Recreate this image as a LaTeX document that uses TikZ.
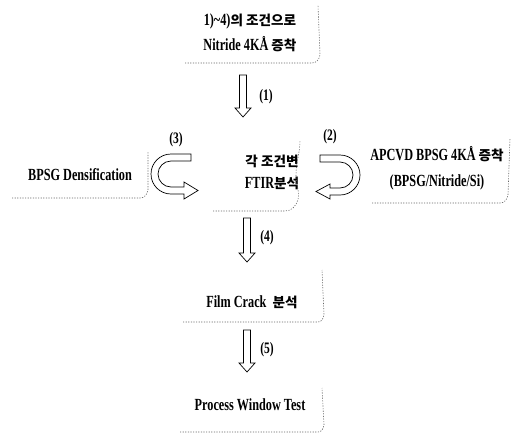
\documentclass[tikz,border=0pt]{standalone}
\usepackage{fontspec}
\setmainfont{Liberation Serif}[FakeStretch=0.72]
\newfontfamily\kr{Noto Sans CJK KR}[Scale=0.8]
\usetikzlibrary{calc}
\tikzset{
  txt/.style={font=\bfseries\fontsize{17}{25}\selectfont, align=center, inner sep=0pt},
  lbl/.style={font=\bfseries\fontsize{16}{16}\selectfont, inner sep=0pt},
  frame/.style={draw=black!60, line width=0.6pt, dash pattern=on 1.2pt off 1.4pt},
  hollow/.style={draw=black, fill=white, line width=0.7pt, line join=miter},
}
\newcommand\harrow[2]{%
  \draw[hollow] let \p1=(#1), \p2=(#2) in
    ($(\x1,\y1)+(-3.5,0)$) -- ($(\x1,\y1)+(3.5,0)$) -- ($(\x1,\y2)+(3.5,-9)$) --
    ($(\x1,\y2)+(8,-9)$) -- (\x1,\y2) -- ($(\x1,\y2)+(-8,-9)$) --
    ($(\x1,\y2)+(-3.5,-9)$) -- cycle;}
\begin{document}
\begin{tikzpicture}[x=1pt,y=-1pt]
\useasboundingbox (0,0) rectangle (513,439);
% text nodes
\node[txt] (n1) at (250,33) {1)\textasciitilde4){\kr 의 조건으로}\\Nitride 4KÅ {\kr 증착}};
\node[txt, font=\bfseries\fontsize{17}{22}\selectfont] (ftir) at (272,172) {{\kr 각 조건변}\\FTIR{\kr 분석}};
\node[txt] (dens) at (80,175) {BPSG Densification};
\node[txt, font=\bfseries\fontsize{17}{26}\selectfont] (apcvd) at (437,168) {APCVD BPSG 4KÅ {\kr 증착}\\(BPSG/Nitride/Si)};
\node[txt] (film) at (252,302) {Film Crack\ \ {\kr 분석}};
\node[txt] (pw) at (250,405) {Process Window Test};
% labels
\node[lbl] (l1) at (266,97) {(1)};
\node[lbl] (l2) at (330,137) {(2)};
\node[lbl] (l3) at (176,140) {(3)};
\node[lbl] (l4) at (267,238) {(4)};
\node[lbl] (l5) at (267,350) {(5)};
% partial frames
\draw[frame] (185,63) -- (312,63) to[out=0,in=-100] (320,55) -- (318,5);
\draw[frame] (213,211) -- (285,211) to[out=0,in=-110] (298,200) to[out=80,in=-90] (296,175) to[out=90,in=-90] (300,140);
\draw[frame] (12,198) -- (140,198) to[out=0,in=-100] (148,190) -- (148,152);
\draw[frame] (372,203) -- (500,203) to[out=0,in=-100] (508,195) -- (510,138);
\draw[frame] (183,322) -- (318,322) to[out=0,in=-100] (324,315) -- (322,270);
\draw[frame] (180,432) -- (318,432) to[out=0,in=-100] (324,425) -- (322,388);
% straight hollow arrows
\coordinate (a1s) at (243,75);  \coordinate (a1e) at (243,117);
\coordinate (a4s) at (247,218); \coordinate (a4e) at (247,262);
\coordinate (a5s) at (247,330); \coordinate (a5e) at (247,372);
\harrow{a1s}{a1e}
\harrow{a4s}{a4e}
\harrow{a5s}{a5e}
% curved hollow arrow (3)
\draw[hollow] (191,154) -- (171,154) arc[start angle=-90, end angle=-270, radius=20]
  -- (184,194) -- (184,199) -- (198,190.5) -- (184,182) -- (184,187) -- (171,187)
  arc[start angle=-270, end angle=-90, radius=13] -- (191,161) -- cycle;
% curved hollow arrow (2)
\draw[hollow] (320,155) -- (340,155) arc[start angle=-90, end angle=90, radius=20]
  -- (330,195) -- (330,199) -- (316,191.5) -- (330,184) -- (330,188) -- (340,188)
  arc[start angle=90, end angle=-90, radius=13] -- (320,162) -- cycle;
\end{tikzpicture}
\end{document}
